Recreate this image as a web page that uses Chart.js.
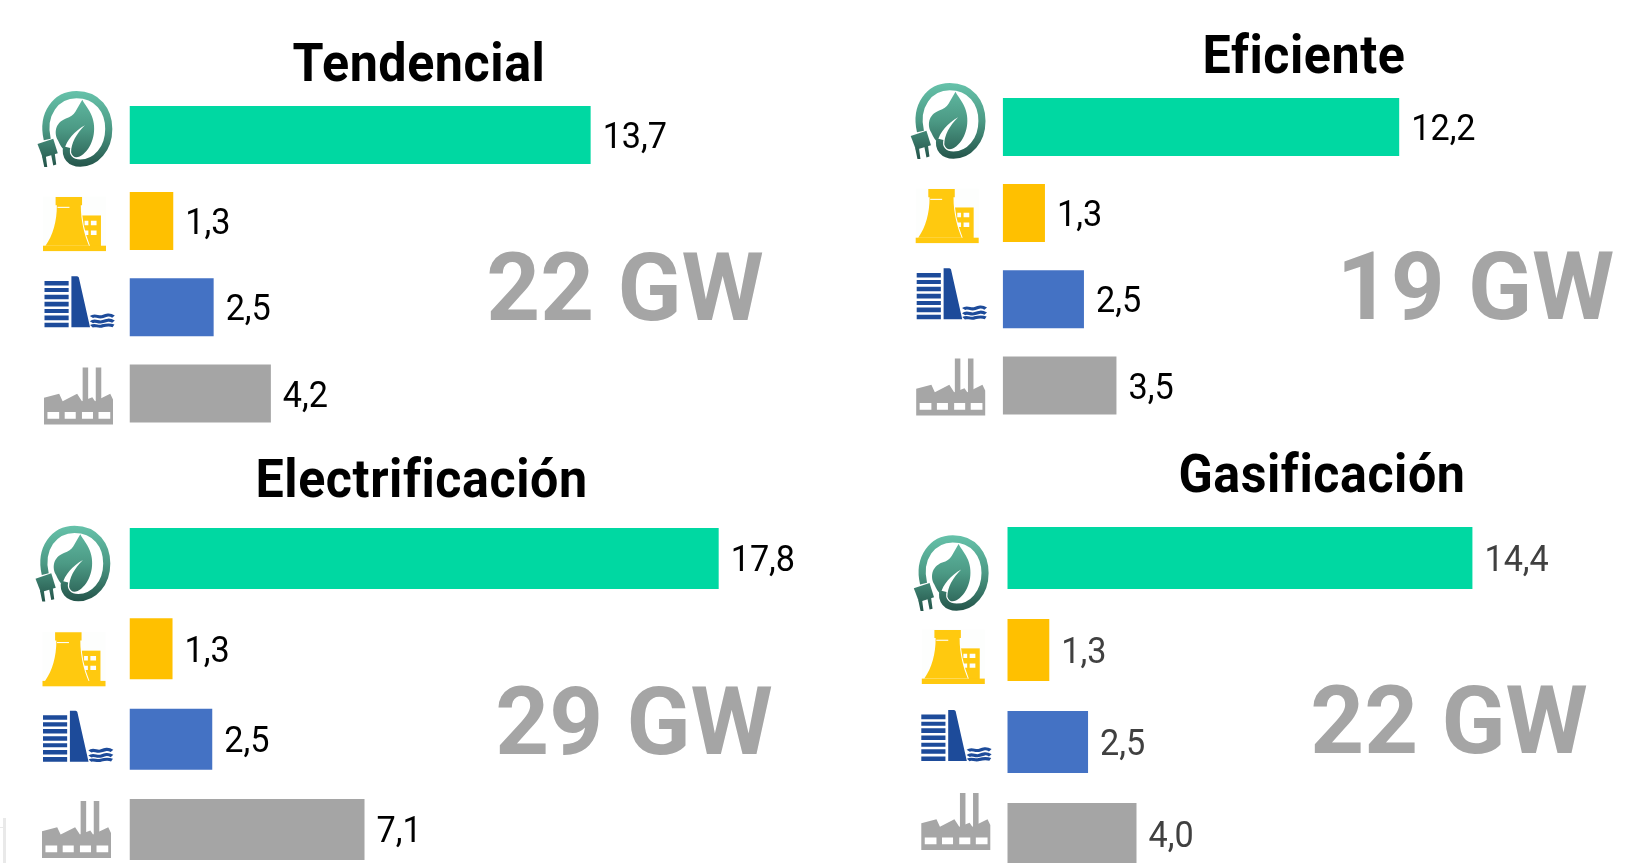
<!DOCTYPE html>
<html lang="es">
<head>
<meta charset="utf-8">
<title>Capacidad por escenario</title>
<script src="https://cdn.jsdelivr.net/npm/chart.js@4"></script>
<style>
html,body{margin:0;padding:0;background:#fff;width:1648px;height:863px;overflow:hidden}
canvas{position:absolute;left:0;top:0}
.speck{position:absolute;background:#e9e9e9}
</style>
</head>
<body>
<div class="speck" style="left:3px;top:818px;width:3px;height:45px"></div>
<div class="speck" style="left:0;top:827px;width:3px;height:1px"></div>
<canvas id="c0" width="1648" height="900"></canvas><canvas id="c1" width="1648" height="900"></canvas><canvas id="c2" width="1648" height="900"></canvas><canvas id="c3" width="1648" height="900"></canvas>
<script>
/* ---------- data ---------- */
const categories = ['Renovable', 'Nuclear', 'Hidráulica', 'Térmica'];
const titles = ['Tendencial', 'Eficiente', 'Electrificación', 'Gasificación'];
const totals = ['22 GW', '19 GW', '29 GW', '22 GW'];
const tendencial = [13.7, 1.3, 2.5, 4.2];
const eficiente = [12.2, 1.3, 2.5, 3.5];
const electrificacion = [17.8, 1.3, 2.5, 7.1];
const gasificacion = [14.4, 1.3, 2.5, 4.0];
const barColors = ['#00D8A2', '#FFC000', '#4472C4', '#A5A5A5'];

/* ---------- layout ---------- */
const CANVAS_W = 1648, CANVAS_H = 900, AXIS_MAX = 18;
const panels = [
 {values:tendencial, left:129.5, top:91.8, band:86.2, bar:58, unit:33.66, labelColor:'#000',
  title:[419,81], total:[625,319.5],
  icons:[[-92,-44],[-86.5,-24],[-85,-31],[-85.5,-26]]},
 {values:eficiente, left:1002.7, top:83.8, band:86.2, bar:58, unit:32.5, labelColor:'#000',
  title:[1304,72.5], total:[1475.5,318.5],
  icons:[[-92,-44],[-87,-24],[-86,-31],[-86.5,-27]]},
 {values:electrificacion, left:129.5, top:513.3, band:90.33, bar:61, unit:33.1, labelColor:'#000',
  title:[421.6,497], total:[634,753.6],
  icons:[[-94,-33],[-87,-16.5],[-86.5,-28.5],[-87.5,-28.5]]},
 {values:gasificacion, left:1007.3, top:512, band:92, bar:62, unit:32.3, labelColor:'#404040',
  title:[1322,492], total:[1449,753],
  icons:[[-93.5,-23],[-85.5,-20],[-86,-32],[-86,-41]]}
];

/* ---------- icon shapes in a 100x100 box ---------- */
const iconSize = [[75,76],[63,54],[69,51],[69,57]];
const iconDraw = [
 function(ctx){ // leaf and plug
  const g = ctx.createLinearGradient(0,0,0,100);
  g.addColorStop(0,'#66C2AA'); g.addColorStop(.5,'#4C9A85'); g.addColorStop(1,'#24544A');
  ctx.strokeStyle = g; ctx.fillStyle = g; ctx.lineCap='butt';
  ctx.lineWidth = 9.5;
  ctx.stroke(new Path2D('M13 64 C5 30 25 5 52 5 C80 5 95 26 95 50 C95 76 78 95 57 95 C44 95 36 86 39 74'));
  ctx.save();
  ctx.translate(54,52); ctx.scale(1.15,1.12); ctx.translate(-54,-52);
  ctx.fill(new Path2D('M59 16 C52 27 51 35 40 38 C27 43 26 56 31 64 C33 69 36 73 38 75 C41 63 50 53 62 46 C52 56 46 67 46 78 C48 85 54 85 60 80 C72 70 76 50 70 35 C67 27 62 22 59 16 Z'));
  ctx.restore();
  ctx.fill(new Path2D('M0 70 L21 63 L27 82 L7 88 Z'));
  ctx.fill(new Path2D('M6 86 L11 85 L13 100 L9 100 Z M18 83 L23 82 L25 97 L21 98 Z'));
 },
 function(ctx){ // nuclear plant
  ctx.fillStyle='#FDFEFD'; ctx.fillRect(0,-1,100,101);
  ctx.fillStyle='#FFC90F';
  ctx.fill(new Path2D('M62 34 H92 V92 H62 Z'));
  ctx.fillStyle='#FDFEFD';
  ctx.fill(new Path2D('M66 44 H72 V52 H66 Z M76 44 H85 V52 H76 Z M66 62 H72 V70 H66 Z M76 62 H85 V70 H76 Z'));
  ctx.strokeStyle='#FDFEFD'; ctx.lineWidth=3;
  const tower = new Path2D('M20 0 H62 V15 H60 C60 45 66 70 73 90 H4 C16 70 22 45 22 15 H20 Z');
  ctx.stroke(tower);
  ctx.fillStyle='#FFC90F'; ctx.fill(tower);
  ctx.fillRect(0,90,100,10);
  ctx.fillStyle='#FDFEFD'; ctx.fillRect(23,18,19,2);
 },
 function(ctx){ // dam
  ctx.fillStyle='#1D4B9A';
  ctx.fill(new Path2D('M0 9 H35 V18 H0 Z M0 23 H35 V31 H0 Z M0 36 H35 V45 H0 Z M0 50 H35 V59 H0 Z M0 64 H35 V72 H0 Z M0 77 H35 V86 H0 Z M0 91 H35 V100 H0 Z'));
  ctx.fill(new Path2D('M39 0 H47 C49 0 50 2 50 4 L66 100 H39 Z'));
  ctx.strokeStyle='#1D4B9A'; ctx.lineWidth=6;
  ctx.stroke(new Path2D('M68 80 C73 74 78 82 84 79 C90 76 94 74 100 79 M68 90 C73 84 78 92 84 89 C90 86 94 84 100 89 M68 98 C73 94 78 100 84 97 C90 95 94 94 100 97'));
 },
 function(ctx){ // factory
  ctx.fillStyle='#A6A6A6';
  ctx.fill(new Path2D('M56 0 H64 V60 H56 Z M75 0 H83 V60 H75 Z'));
  ctx.fill(new Path2D('M0 53 L22 46 L27 59 L48 46 L55 59 L70 52 L74 59 L96 46 L100 56 V100 H0 Z'));
  ctx.fillStyle='#fff';
  ctx.fill(new Path2D('M5 78 H22 V90 H5 Z M30 78 H46 V90 H30 Z M55 78 H71 V90 H55 Z M79 78 H96 V90 H79 Z'));
 }
];

/* ---------- text helper: the source picture is stretched a little vertically ---------- */
function text(ctx, s, x, y, font, color, align, sx, spacing){
  ctx.save();
  ctx.translate(x, y);
  ctx.scale(sx, 1);
  ctx.font = font; ctx.fillStyle = color; ctx.textAlign = align; ctx.textBaseline = 'alphabetic';
  ctx.letterSpacing = spacing || '0px';
  ctx.fillText(s, 0, 0);
  ctx.restore();
}

const panelDecor = {
  id:'panelDecor',
  afterDatasetsDraw(chart, args, opts){
    const ctx = chart.ctx, p = opts.panel, i = opts.index;
    const yScale = chart.scales.y, left = chart.chartArea.left;
    categories.forEach((c, k) => {
      const [dx, dy] = p.icons[k], [w, h] = iconSize[k];
      ctx.save();
      ctx.filter = 'blur(0.5px)';
      ctx.translate(left + dx, yScale.getPixelForValue(k) + dy);
      ctx.scale(w/100, h/100);
      iconDraw[k](ctx);
      ctx.restore();
    });
    chart.getDatasetMeta(0).data.forEach((b, k) => {
      const s = p.values[k].toFixed(1).replace('.', ',');
      text(ctx, s, b.x + 12, b.y + 13, '400 36px Roboto', p.labelColor, 'left', 0.95);
    });
    text(ctx, titles[i], p.title[0], p.title[1], '700 54px Roboto', '#000', 'center', 0.93, '0.6px');
    text(ctx, totals[i], p.total[0], p.total[1], '700 94px Roboto', '#A5A5A5', 'center', 1);
  }
};

panels.forEach((p, i) => {
  const plotW = p.unit * AXIS_MAX, plotH = p.band * categories.length;
  new Chart(document.getElementById('c' + i), {
    type: 'bar',
    data: { labels: categories, datasets: [{ data: p.values, backgroundColor: barColors,
            barPercentage: p.bar / p.band, categoryPercentage: 1, borderWidth: 0 }] },
    options: {
      indexAxis: 'y', responsive: false, animation: false,
      layout: { padding: { left: p.left, top: p.top,
                           right: CANVAS_W - p.left - plotW, bottom: CANVAS_H - p.top - plotH } },
      scales: { x: { display: false, min: 0, max: AXIS_MAX },
                y: { display: false, offset: true } },
      plugins: { legend: { display: false }, tooltip: { enabled: false },
                 title: { display: false }, panelDecor: { panel: p, index: i } }
    },
    plugins: [panelDecor]
  });
});
</script>
</body>
</html>
